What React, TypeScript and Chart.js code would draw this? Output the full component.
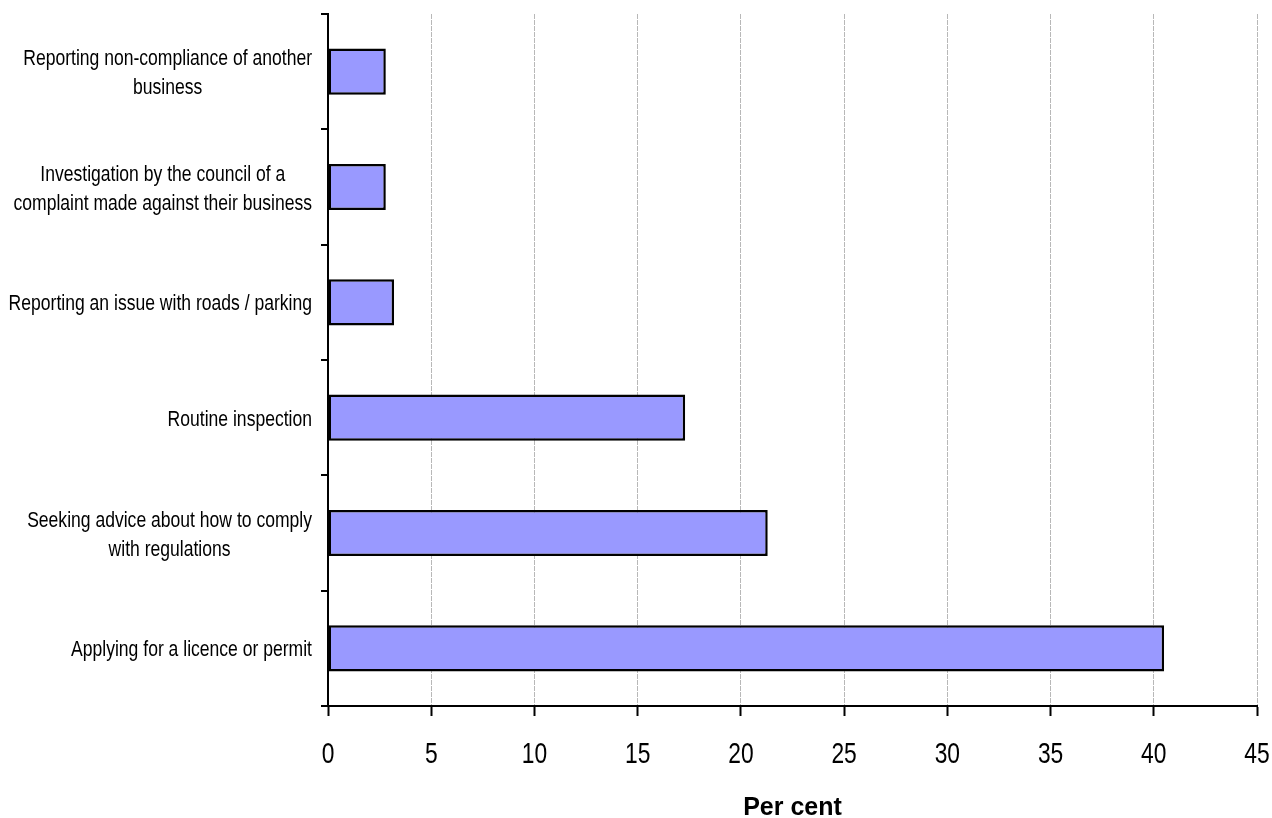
import { useEffect, useRef } from "react";
import { Chart, registerables } from "chart.js";

Chart.register(...registerables);

const categories: string[][] = [
  ["Reporting non-compliance of another", "business"],
  ["Investigation by the council of a", "complaint made against their business"],
  ["Reporting an issue with roads / parking"],
  ["Routine inspection"],
  ["Seeking advice about how to comply", "with regulations"],
  ["Applying for a licence or permit"],
];

const percentValues = [2.8, 2.8, 3.2, 17.3, 21.3, 40.5];

const xTicks = [0, 5, 10, 15, 20, 25, 30, 35, 40, 45];

const FONT = "'Liberation Sans', Arial, sans-serif";

// no narrow font installed, so text is squeezed horizontally
const drawNarrow = (ctx: CanvasRenderingContext2D, text: string, x: number, y: number, sx: number) => {
  ctx.save();
  ctx.translate(x, y);
  ctx.scale(sx, 1);
  ctx.fillText(text, 0, 0);
  ctx.restore();
};

const axisText = {
  id: "axisText",
  afterDraw(chart: Chart) {
    const ctx = chart.ctx;
    const yScale = chart.scales.y;
    const xScale = chart.scales.x;
    ctx.save();
    ctx.fillStyle = "#000";
    ctx.textBaseline = "alphabetic";

    // category labels: block right-aligned, lines centred within it
    const sy = 0.78;
    const right = chart.chartArea.left - 16;
    const lineHeight = 29;
    ctx.font = `22.5px ${FONT}`;
    ctx.textAlign = "center";
    categories.forEach((lines, i) => {
      const y = yScale.getPixelForValue(i);
      const w = Math.max(...lines.map((l) => ctx.measureText(l).width)) * sy;
      const cx = right - w / 2;
      const top = y - ((lines.length - 1) * lineHeight) / 2;
      lines.forEach((l, j) => drawNarrow(ctx, l, cx, top + j * lineHeight + 8, sy));
    });

    // x tick labels
    ctx.font = `30px ${FONT}`;
    xTicks.forEach((v) => {
      drawNarrow(ctx, String(v), xScale.getPixelForValue(v), chart.chartArea.bottom + 57, 0.76);
    });
    ctx.restore();
  },
};

export default function App() {
  const canvasRef = useRef<HTMLCanvasElement | null>(null);

  useEffect(() => {
    if (!canvasRef.current) {
      return;
    }

    const chart = new Chart(canvasRef.current, {
      type: "bar",
      data: {
        labels: categories,
        datasets: [
          {
            label: "Per cent",
            data: percentValues,
            backgroundColor: "#9999ff",
            borderColor: "#000000",
            borderWidth: 2.5,
            borderSkipped: false,
            barPercentage: 0.4,
            categoryPercentage: 1,
          },
        ],
      },
      options: {
        indexAxis: "y",
        responsive: true,
        maintainAspectRatio: false,
        animation: false,
        layout: { padding: { top: 14, right: 15, left: 0, bottom: 0 } },
        plugins: {
          legend: { display: false },
          tooltip: { enabled: false },
        },
        scales: {
          x: {
            min: 0,
            max: 45,
            afterBuildTicks: (scale) => {
              scale.ticks = xTicks.map((v) => ({ value: v }));
            },
            afterFit: (scale) => {
              scale.height = 112;
            },
            grid: {
              color: "#b8b8b8",
              lineWidth: 1,
              tickColor: "#000",
              tickLength: 10,
              tickWidth: 2,
              tickBorderDash: [],
            },
            border: { display: true, color: "#000", width: 2, dash: [5, 1] },
            ticks: { display: false },
            title: {
              display: true,
              text: "Per cent",
              color: "#000",
              font: { family: FONT, size: 25, weight: "bold", lineHeight: 1 },
              padding: { top: 0, bottom: -3 },
            },
          },
          y: {
            afterFit: (scale) => {
              scale.width = 328;
            },
            grid: {
              display: true,
              drawOnChartArea: false,
              offset: true,
              color: "#000",
              tickLength: 7,
              lineWidth: 2,
            },
            border: { display: true, color: "#000", width: 2 },
            ticks: { display: false },
          },
        },
      },
      plugins: [axisText],
    });

    return () => {
      chart.destroy();
    };
  }, []);

  return (
    <div
      style={{
        position: "fixed",
        left: 0,
        top: 0,
        width: "1272px",
        height: "818px",
        background: "#fff",
      }}
    >
      <canvas ref={canvasRef}></canvas>
    </div>
  );
}
